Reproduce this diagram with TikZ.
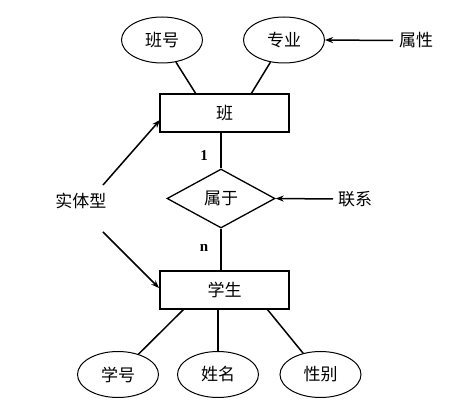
\documentclass[tikz,border=0pt]{standalone}
\usepackage{fontspec}
\setmainfont{Liberation Serif}
\newfontfamily\cjk{Noto Sans CJK SC}
\usetikzlibrary{shapes.geometric,arrows.meta}
\begin{document}
\begin{tikzpicture}[x=1pt,y=-1pt,
  attr/.style={draw,ellipse,line width=1pt,minimum width=81pt,minimum height=46pt,inner sep=0pt,font=\cjk\fontsize{17}{19}\selectfont},
  ent/.style={draw,rectangle,line width=2pt,minimum width=129pt,minimum height=38pt,inner sep=0pt,font=\cjk\fontsize{17}{19}\selectfont},
  rel/.style={draw,diamond,line width=1.3pt,minimum width=108pt,minimum height=59pt,inner sep=0pt,aspect=1.83,font=\cjk\fontsize{17}{19}\selectfont},
  lab/.style={font=\cjk\fontsize{17}{19}\selectfont,inner sep=1pt},
  card/.style={font=\bfseries\fontsize{15}{17}\selectfont,inner sep=0pt},
  conn/.style={line width=1.5pt},
  arr/.style={line width=1.5pt,-{Stealth[length=8pt,width=6pt]}}]
\useasboundingbox (0,0) rectangle (472,414);
% attributes of class
\node[attr] (banhao) at (162,40) {班号};
\node[attr] (zhuanye) at (284,40) {专业};
\node[lab] (shuxing) at (416,40) {属性};
% entity class
\node[ent] (ban) at (224.5,113) {班};
% relation
\node[rel] (shuyu) at (221,198.5) {属于};
\node[lab] (lianxi) at (355,199) {联系};
% entity student
\node[ent] (xuesheng) at (224.5,290) {学生};
\node[lab] (shiti) at (81,201) {实体型};
% attributes of student
\node[attr] (xuehao) at (118,374.5) {学号};
\node[attr] (xingming) at (218,374.5) {姓名};
\node[attr] (xingbie) at (320.5,374.5) {性别};
% cardinalities
\node[card] (one) at (204,156) {1};
\node[card] (n) at (204,248) {n};
% connectors
\draw[conn] (banhao) -- (196,94);
\draw[conn] (zhuanye) -- (251,94);
\draw[conn] (ban.south -| shuyu.north) -- (shuyu.north);
\draw[conn] (shuyu.south) -- (xuesheng.north -| shuyu.south);
\draw[conn] (184,309) -- (xuehao);
\draw[conn] (xingming.north |- xuesheng.south) -- (xingming.north);
\draw[conn] (267,309) -- (xingbie);
% arrows
\coordinate (s1) at (103,185);
\coordinate (s2) at (103,232);
\coordinate (b1) at (160,120);
\coordinate (b2) at (159,288);
\coordinate (a1) at (393,40.5);
\coordinate (a2) at (333,199);
\draw[arr] (s1) -- (b1);
\draw[arr] (s2) -- (b2);
\draw[arr] (a1) -- (zhuanye.east);
\draw[arr] (a2) -- (shuyu.east);
\end{tikzpicture}
\end{document}
